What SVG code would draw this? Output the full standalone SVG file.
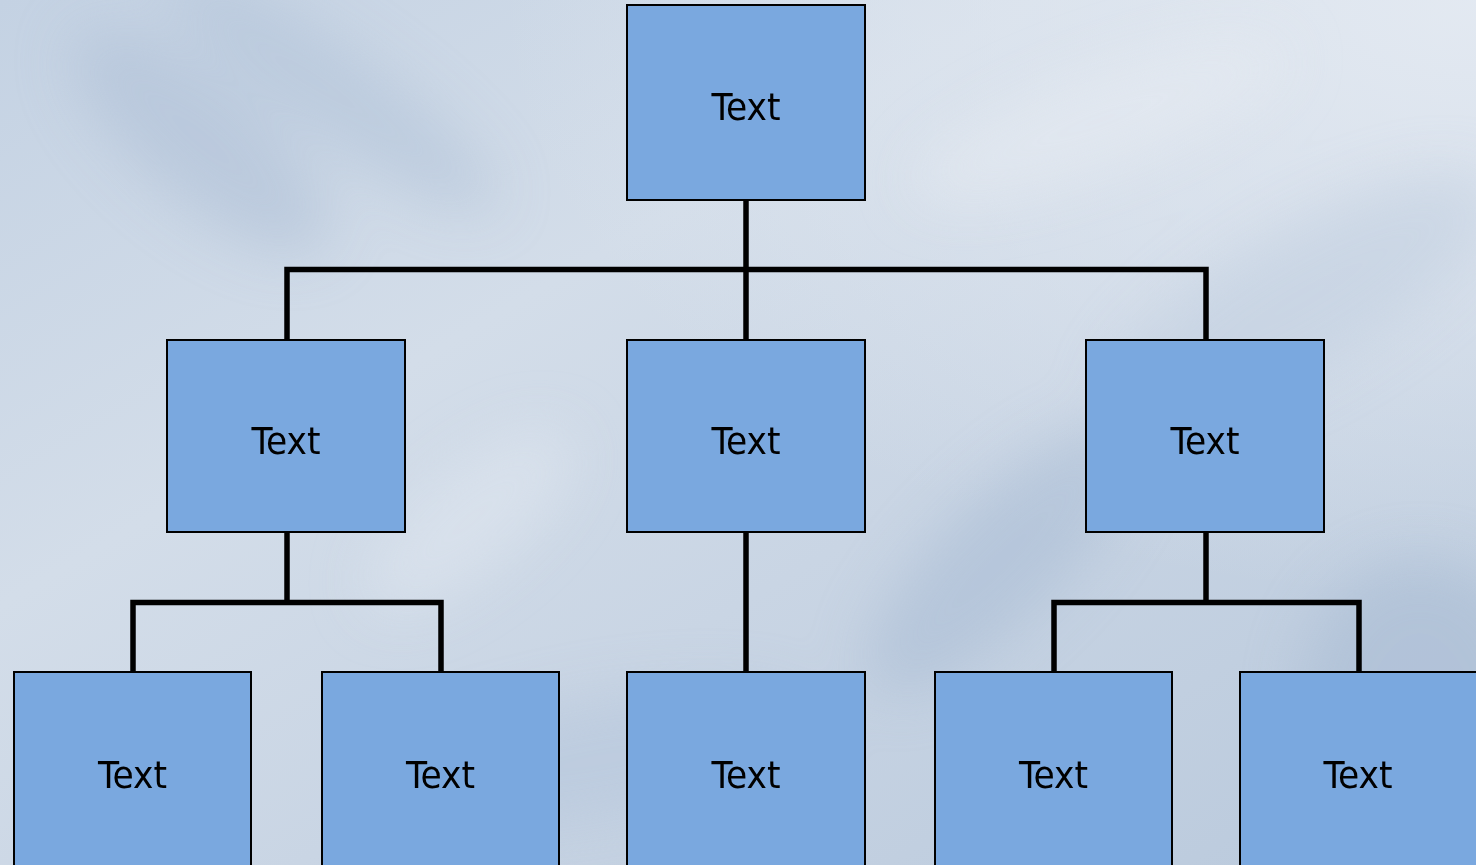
<svg xmlns="http://www.w3.org/2000/svg" width="1476" height="865" viewBox="0 0 1476 865">
  <defs>
    <linearGradient id="bg" x1="0" y1="0" x2="1" y2="1">
      <stop offset="0" stop-color="#c4d2e3"/>
      <stop offset="0.35" stop-color="#d3dde9"/>
      <stop offset="0.6" stop-color="#c9d5e4"/>
      <stop offset="1" stop-color="#b9c9dc"/>
    </linearGradient>
    <radialGradient id="bgTR" cx="1" cy="0" r="1">
      <stop offset="0" stop-color="#e4eaf2" stop-opacity="0.95"/>
      <stop offset="0.6" stop-color="#e4eaf2" stop-opacity="0.4"/>
      <stop offset="1" stop-color="#e4eaf2" stop-opacity="0"/>
    </radialGradient>
    <filter id="blur" x="-50%" y="-50%" width="200%" height="200%">
      <feGaussianBlur stdDeviation="28"/>
    </filter>
    <style>
      .box { fill: #7aa8df; stroke: #000; stroke-width: 2; }
      .lbl { font-family: "DejaVu Sans Condensed", "DejaVu Sans", sans-serif; font-size: 37px; fill: #000; text-anchor: middle; }
      .conn { fill: none; stroke: #000; stroke-width: 5.5; stroke-linejoin: miter; stroke-linecap: butt; }
    </style>
  </defs>

  <rect width="1476" height="865" fill="url(#bg)"/>
  <rect x="500" y="0" width="976" height="600" fill="url(#bgTR)"/>
  <g filter="url(#blur)" opacity="0.55">
    <ellipse cx="200" cy="140" rx="160" ry="60" transform="rotate(40 200 140)" fill="#aebfd6"/>
    <ellipse cx="330" cy="90" rx="200" ry="45" transform="rotate(35 330 90)" fill="#b1c2d8"/>
    <ellipse cx="470" cy="520" rx="130" ry="50" transform="rotate(-40 470 520)" fill="#e0e7f0"/>
    <ellipse cx="1000" cy="560" rx="180" ry="60" transform="rotate(-45 1000 560)" fill="#a9bcd4"/>
    <ellipse cx="1300" cy="300" rx="220" ry="70" transform="rotate(-30 1300 300)" fill="#c1cfe0"/>
    <ellipse cx="1100" cy="120" rx="200" ry="50" transform="rotate(-20 1100 120)" fill="#e6ebf2"/>
    <ellipse cx="600" cy="760" rx="220" ry="60" transform="rotate(-10 600 760)" fill="#b5c6dc"/>
    <ellipse cx="1420" cy="700" rx="120" ry="140" fill="#a8bbd3"/>
  </g>

  <g id="connectors">
    <path class="conn" d="M746 200 V340"/>
    <path class="conn" d="M287 340 V269.5 H1206 V340"/>
    <path class="conn" d="M287 532 V602.5"/>
    <path class="conn" d="M133 672 V602.5 H441 V672"/>
    <path class="conn" d="M746 532 V672"/>
    <path class="conn" d="M1206 532 V602.5"/>
    <path class="conn" d="M1054 672 V602.5 H1359 V672"/>
  </g>

  <g id="node-top">
    <rect class="box" x="627" y="5" width="238" height="195"/>
    <text class="lbl" x="746" y="120" textLength="69" lengthAdjust="spacingAndGlyphs">Text</text>
  </g>
  <g id="node-mid-left">
    <rect class="box" x="167" y="340" width="238" height="192"/>
    <text class="lbl" x="286" y="454" textLength="69" lengthAdjust="spacingAndGlyphs">Text</text>
  </g>
  <g id="node-mid-center">
    <rect class="box" x="627" y="340" width="238" height="192"/>
    <text class="lbl" x="746" y="454" textLength="69" lengthAdjust="spacingAndGlyphs">Text</text>
  </g>
  <g id="node-mid-right">
    <rect class="box" x="1086" y="340" width="238" height="192"/>
    <text class="lbl" x="1205" y="454" textLength="69" lengthAdjust="spacingAndGlyphs">Text</text>
  </g>
  <g id="node-bot-1">
    <rect class="box" x="14" y="672" width="237" height="210"/>
    <text class="lbl" x="132.5" y="787.5" textLength="69" lengthAdjust="spacingAndGlyphs">Text</text>
  </g>
  <g id="node-bot-2">
    <rect class="box" x="322" y="672" width="237" height="210"/>
    <text class="lbl" x="440.5" y="787.5" textLength="69" lengthAdjust="spacingAndGlyphs">Text</text>
  </g>
  <g id="node-bot-3">
    <rect class="box" x="627" y="672" width="238" height="210"/>
    <text class="lbl" x="746" y="787.5" textLength="69" lengthAdjust="spacingAndGlyphs">Text</text>
  </g>
  <g id="node-bot-4">
    <rect class="box" x="935" y="672" width="237" height="210"/>
    <text class="lbl" x="1053.5" y="787.5" textLength="69" lengthAdjust="spacingAndGlyphs">Text</text>
  </g>
  <g id="node-bot-5">
    <rect class="box" x="1240" y="672" width="250" height="210"/>
    <text class="lbl" x="1358" y="787.5" textLength="69" lengthAdjust="spacingAndGlyphs">Text</text>
  </g>
</svg>
